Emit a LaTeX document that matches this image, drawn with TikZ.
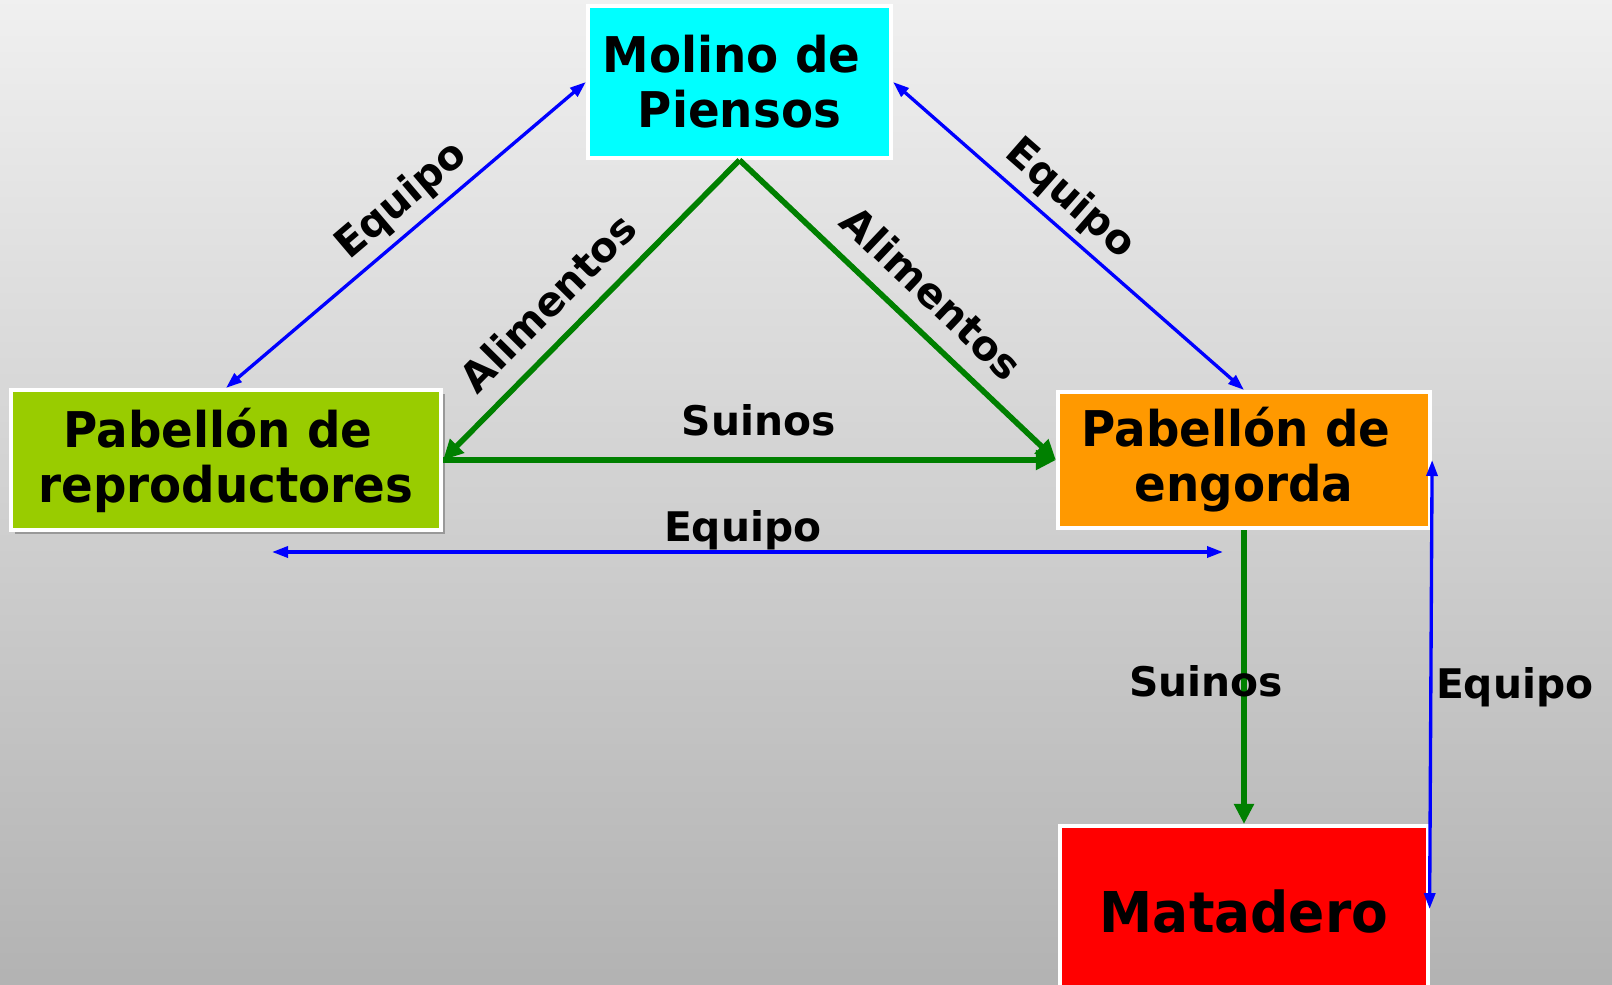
\documentclass[tikz,border=0pt]{standalone}
\usepackage{fontspec}
\setmainfont{DejaVu Sans}
\newfontfamily\boxfont{DejaVu Sans}[FakeStretch=0.95]
\usetikzlibrary{arrows.meta,shadows}
\definecolor{cianmolino}{RGB}{0,255,255}
\definecolor{verdeclaro}{RGB}{153,204,0}
\definecolor{naranja}{RGB}{255,153,0}
\definecolor{rojo}{RGB}{255,0,0}
\definecolor{azul}{RGB}{0,0,255}
\definecolor{verdeflujo}{RGB}{0,128,0}
\tikzset{%
   farm unit/.style={
    draw=white,
    line width=0.04cm,
    inner sep=0pt,
    align=center,
    font=\boxfont\bfseries\fontsize{14}{15.6}\selectfont
  },
   equipo line/.style={
    draw=azul,
    line width=0.95pt,
    {Triangle[length=0.16cm,width=0.11cm]}-{Triangle[length=0.16cm,width=0.11cm]}
  },
   flow line/.style={
    draw=verdeflujo,
    line width=1.6pt,
    -{Triangle[length=0.2cm,width=0.19cm]}
  },
   flow label/.style={
    inner sep=0pt,
    font=\bfseries\fontsize{11.6}{13}\selectfont
  },
}

\begin{document}
\begin{tikzpicture}[x=0.01cm, y=-0.01cm]

% background
\clip (0,0) rectangle (1612,985);
\shade [top color=gray!12, bottom color=gray!60] (0,0) rectangle (1612,985);

%%%%%%%%%%%%%%%%%%%%%%%%%%%%%%%%%%%%%%%%%%%%%%%%%%%%%%%%%%%%%%%%%%%%%%%%%%%%%
% units

\node [farm unit, fill=cianmolino, minimum width=3.03cm, minimum height=1.52cm] (molino) at (739.5,82) {Molino de\hphantom{\ }\\Piensos};

\node [farm unit, fill=verdeclaro, minimum width=4.30cm, minimum height=1.40cm,
  drop shadow={shadow xshift=0.04cm, shadow yshift=-0.04cm, fill=black!40, opacity=1}] (repro) at (226,460) {Pabellón de\hphantom{\ }\\reproductores};

\node [farm unit, fill=naranja, minimum width=3.72cm, minimum height=1.36cm] (engorda) at (1244,460) {Pabellón de\hphantom{\ }\\engorda};

\node [farm unit, fill=rojo, minimum width=3.67cm, anchor=north, text height=1.06cm, text depth=1cm,
  font=\boxfont\bfseries\fontsize{16}{18}\selectfont] (matadero) at (1244,824) {Matadero};

\coordinate (eq-left) at (272,552);
\coordinate (eq-right) at (1223,552);

%%%%%%%%%%%%%%%%%%%%%%%%%%%%%%%%%%%%%%%%%%%%%%%%%%%%%%%%%%%%%%%%%%%%%%%%%%%%%
% connections

\draw [equipo line] (repro.north) -- (molino.west)
  node [flow label, sloped, above=2pt, pos=0.54] {Equipo};
\draw [equipo line] (molino.east) -- (engorda.north)
  node [flow label, sloped, above=2pt, pos=0.45] {Equipo};

\foreach \u/\a/\p in {repro/east/0.56, engorda/west/0.53}
  \draw [flow line] (molino.south) -- (\u.\a)
    node [flow label, sloped, above=5pt, pos=\p] {Alimentos};

\draw [flow line] (repro.east) -- (engorda.west)
  node [flow label, above=6pt, pos=0.515] {Suinos};
\draw [equipo line] (eq-left) -- (eq-right)
  node [flow label, above=0pt, pos=0.495] {Equipo};

\draw [flow line] (engorda.south) -- (matadero.north)
  node [flow label, pos=0.515, xshift=-0.38cm] {Suinos};
\draw [equipo line] (engorda.east) -- ([yshift=0.2cm]matadero.east)
  node [flow label, right=1pt, pos=0.505] {Equipo};

\end{tikzpicture}
\end{document}
